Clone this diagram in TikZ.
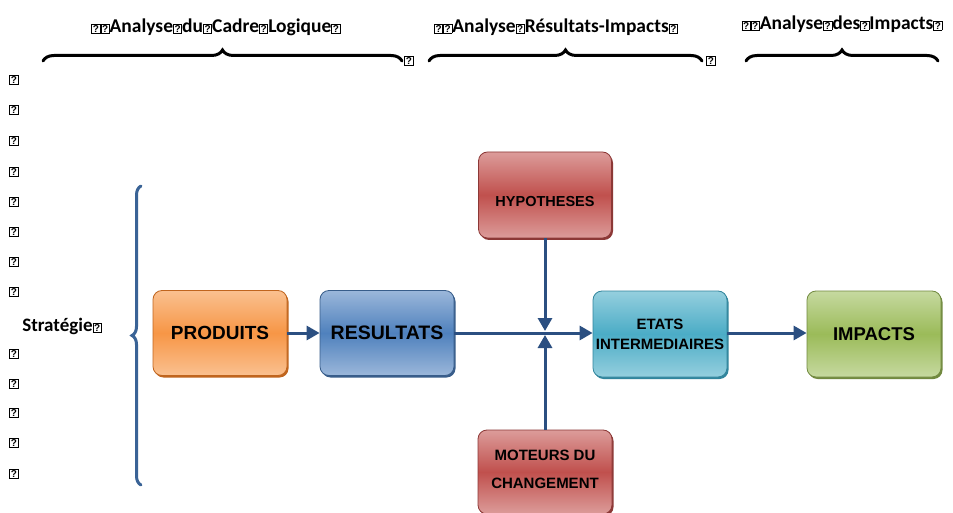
\documentclass[tikz,border=0pt]{standalone}
\usepackage{fontspec}
\setmainfont{Carlito}
\newfontfamily\arialf{Liberation Sans}
\usetikzlibrary{arrows.meta,shadows,decorations.pathreplacing}
\newcommand{\mgbox}{\begingroup\setlength{\fboxsep}{0.7pt}\setlength{\fboxrule}{0.8pt}\fbox{\fontsize{10}{10}\selectfont\arialf\bfseries ?}\endgroup}
\definecolor{arrc}{HTML}{2B4F81}
\definecolor{bracec}{HTML}{3A6396}
\begin{document}
\begin{tikzpicture}[x=1pt,y=-1pt,
  box/.style={rounded corners=9pt, minimum width=134pt, minimum height=85pt, align=center,
    font=\arialf\bfseries, inner sep=1pt},
  ob/.style={box, draw=F79646dark, line width=0.8pt, top color=OrT, bottom color=OrT, middle color=OrM,
    drop shadow={shadow xshift=1.5pt, shadow yshift=-2pt, fill=F79646dark, opacity=1}},
  bb/.style={box, draw=BlD, line width=0.8pt, top color=BlT, bottom color=BlT, middle color=BlM,
    drop shadow={shadow xshift=1.5pt, shadow yshift=-2pt, fill=BlD, opacity=1}},
  rb/.style={box, draw=RdD, line width=0.8pt, top color=RdT, bottom color=RdT, middle color=RdM,
    drop shadow={shadow xshift=1.5pt, shadow yshift=-2pt, fill=RdD, opacity=1}},
  cb/.style={box, draw=CyD, line width=0.8pt, top color=CyT, bottom color=CyT, middle color=CyM,
    drop shadow={shadow xshift=1.5pt, shadow yshift=-2pt, fill=CyD, opacity=1}},
  gb/.style={box, draw=GrD, line width=0.8pt, top color=GrT, bottom color=GrT, middle color=GrM,
    drop shadow={shadow xshift=1.5pt, shadow yshift=-2pt, fill=GrD, opacity=1}},
  arr/.style={draw=arrc, line width=3pt, -{Triangle[length=13pt,width=14pt]}},
  title/.style={font=\fontsize{19.5}{22}\selectfont\bfseries, inner sep=0pt},
  tbrace/.style={draw=black, line width=3pt, line cap=round, decorate,
    decoration={brace, amplitude=11pt}},
  mg/.style={inner sep=0pt}
]
\definecolor{F79646dark}{HTML}{C0651E}
\definecolor{OrT}{HTML}{FAC090}
\definecolor{OrM}{HTML}{F79646}
\definecolor{BlD}{HTML}{385D8A}
\definecolor{BlT}{HTML}{9BB7DA}
\definecolor{BlM}{HTML}{4F81BD}
\definecolor{RdD}{HTML}{8C3836}
\definecolor{RdT}{HTML}{DC9C9A}
\definecolor{RdM}{HTML}{C0504D}
\definecolor{CyD}{HTML}{31859C}
\definecolor{CyT}{HTML}{95CFDE}
\definecolor{CyM}{HTML}{4BACC6}
\definecolor{GrD}{HTML}{71893F}
\definecolor{GrT}{HTML}{C6D9A0}
\definecolor{GrM}{HTML}{9BBB59}
\useasboundingbox[fill=white] (0,0) rectangle (953,513);

% titles
\node[title] (t1) at (216,27) {\mgbox\mgbox Analyse\mgbox du\mgbox Cadre\mgbox Logique\mgbox};
\node[title] (t2) at (556,27) {\mgbox\mgbox Analyse\mgbox Résultats-Impacts\mgbox};
\node[title] (t3) at (842,24) {\mgbox\mgbox Analyse\mgbox des\mgbox Impacts\mgbox};

% top braces
\coordinate (b1a) at (43,61); \coordinate (b1b) at (402,61);
\coordinate (b2a) at (429,61); \coordinate (b2b) at (702,61);
\coordinate (b3a) at (746,61); \coordinate (b3b) at (938,61);
\draw[tbrace] (b1a) -- (b1b);
\draw[tbrace] (b2a) -- (b2b);
\draw[tbrace] (b3a) -- (b3b);
\node[mg] (e1) at (409,61) {\mgbox};
\node[mg] (e2) at (711,61) {\mgbox};

% left column
\foreach \i/\y in {1/80,2/110,3/141,4/172,5/202,6/232,7/262,8/292,9/354,10/384,11/413,12/443,13/474}
  \node[mg] (m\i) at (14,\y) {\mgbox};
\node[font=\fontsize{19}{22}\selectfont\bfseries, inner sep=0pt] (strat) at (62,326) {Stratégie\mgbox};

% blue brace
\coordinate (vb1) at (141,485); \coordinate (vb2) at (141,186);
\draw[draw=bracec, line width=3pt, line cap=round, decorate, decoration={brace, amplitude=9pt}] (vb1) -- (vb2);

% boxes
\node[ob, font=\arialf\bfseries\fontsize{19}{22}\selectfont] (prod) at (220,333) {PRODUITS};
\node[bb, font=\arialf\bfseries\fontsize{19.5}{22}\selectfont] (res) at (387,333) {RESULTATS};
\node[rb, font=\arialf\bfseries\fontsize{14.5}{16}\selectfont, minimum width=133pt, minimum height=86pt] (hyp) at (545,195) {\raisebox{-12pt}[0pt][0pt]{HYPOTHESES}};
\node[cb, font=\arialf\bfseries\fontsize{15}{20}\selectfont, minimum height=86pt] (etat) at (660,334) {ETATS\\INTERMEDIAIRES};
\node[gb, font=\arialf\bfseries\fontsize{18.5}{22}\selectfont, minimum height=86pt] (imp) at (874,334) {IMPACTS};
\node[rb, font=\arialf\bfseries\fontsize{15}{28}\selectfont, minimum height=84pt] (mot) at (545,472) {\raisebox{0pt}[0pt][0pt]{\begin{tabular}{@{}c@{}}MOTEURS DU\\CHANGEMENT\end{tabular}}};

% connectors
\draw[arr] (prod.east |- 0,333) -- (res.west |- 0,333);
\draw[arr] (res.east |- 0,333) -- (etat.west |- 0,333);
\draw[arr] (etat.east |- 0,333) -- (imp.west |- 0,333);
\draw[arr] (hyp.south) -- (hyp.south |- 0,331);
\draw[arr] (mot.north) -- (mot.north |- 0,335);
\end{tikzpicture}
\end{document}
